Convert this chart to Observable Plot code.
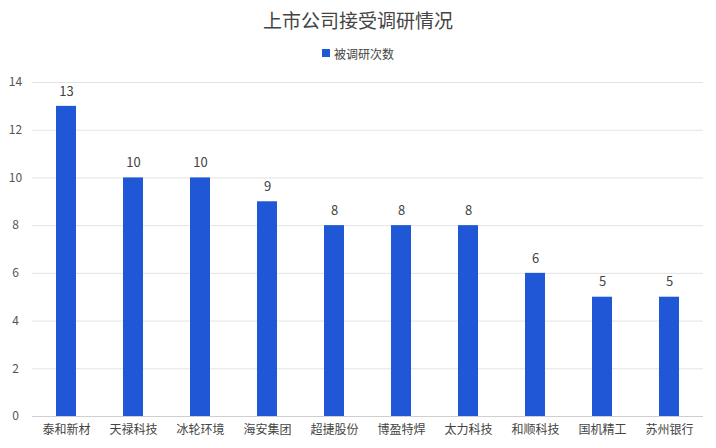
<!DOCTYPE html>
<html><head><meta charset="utf-8">
<script src="https://cdn.jsdelivr.net/npm/d3@7"></script>
<script src="https://cdn.jsdelivr.net/npm/@observablehq/plot@0.6"></script>
<style>
body{margin:0;background:#fff;font-family:"Noto Sans CJK SC","Microsoft YaHei",sans-serif;}
#wrap{width:716px;height:448px;overflow:hidden;}
#title{height:40px;line-height:40px;text-align:center;font-size:19px;color:#444;}
#legend{height:26px;display:flex;align-items:center;justify-content:center;font-size:12px;color:#444;}
#legend span.sw{display:inline-block;width:8px;height:8px;background:#1f57d6;margin-right:4px;}
</style></head>
<body><div id="wrap">
<div id="title">上市公司接受调研情况</div>
<div id="legend"><span class="sw"></span>被调研次数</div>
<div id="chart"></div>
</div>
<script>
const companies = ["泰和新材","天禄科技","冰轮环境","海安集团","超捷股份","博盈特焊","太力科技","和顺科技","国机精工","苏州银行"];
const counts = [13,10,10,9,8,8,8,6,5,5];
const yTicks = [0,2,4,6,8,10,12,14];
const seriesName = "被调研次数";
const data = companies.map((c,i)=>({company:c, value:counts[i]}));
const color = "#1f57d6";
const chart = Plot.plot({
  width:716, height:382,
  marginTop:16, marginBottom:32, marginLeft:32, marginRight:13,
  style:{fontFamily:'"Noto Sans CJK SC",sans-serif', fontSize:"12px", color:"#555", background:"#fff"},
  x:{domain:companies, paddingInner:0.7, paddingOuter:0.35, label:null, tickSize:0},
  y:{domain:[0,14], ticks:yTicks, label:null, tickSize:0},
  marks:[
    Plot.gridY(yTicks,{stroke:"#e3e3e3", strokeOpacity:1}),
    Plot.ruleY([0],{stroke:"#cfcfcf"}),
    Plot.barY(data,{x:"company", y:"value", fill:color}),
    Plot.text(data,{x:"company", y:"value", text:d=>String(d.value), dy:-15, fontSize:13, fill:"#444"}),
    Plot.axisY(yTicks,{tickSize:0, tickPadding:14, fontSize:12, fill:"#555", textAnchor:"middle", dx:-3}),
    Plot.axisX({tickSize:0, tickPadding:9, fontSize:12, fill:"#444"})
  ]
});
document.getElementById("chart").appendChild(chart);
</script>
</body></html>
